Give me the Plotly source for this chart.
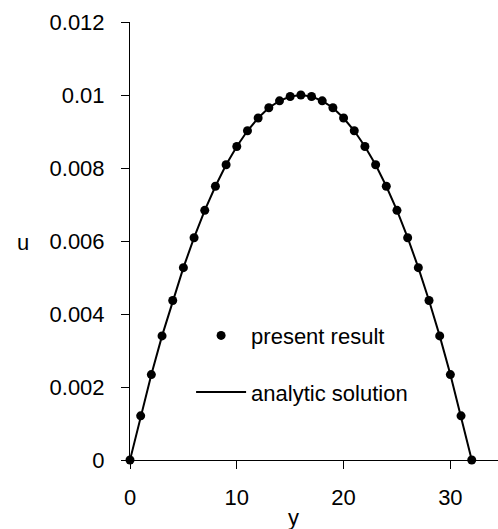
import plotly.graph_objects as go

y_pos = [0, 1, 2, 3, 4, 5, 6, 7, 8, 9, 10, 11, 12, 13, 14, 15, 16,
         17, 18, 19, 20, 21, 22, 23, 24, 25, 26, 27, 28, 29, 30, 31, 32]
u_present = [0.0, 0.00121, 0.00234, 0.00340, 0.00437, 0.00527, 0.00609, 0.00684,
             0.00750, 0.00809, 0.00859, 0.00902, 0.00937, 0.00965, 0.00984, 0.00996,
             0.01000, 0.00996, 0.00984, 0.00965, 0.00937, 0.00902, 0.00859, 0.00809,
             0.00750, 0.00684, 0.00609, 0.00527, 0.00437, 0.00340, 0.00234, 0.00121, 0.0]
u_analytic = [0.0, 0.00121, 0.00234, 0.00340, 0.00437, 0.00527, 0.00609, 0.00684,
              0.00750, 0.00809, 0.00859, 0.00902, 0.00937, 0.00965, 0.00984, 0.00996,
              0.01000, 0.00996, 0.00984, 0.00965, 0.00937, 0.00902, 0.00859, 0.00809,
              0.00750, 0.00684, 0.00609, 0.00527, 0.00437, 0.00340, 0.00234, 0.00121, 0.0]
x_ticks = [0, 10, 20, 30]
y_ticks = [0, 0.002, 0.004, 0.006, 0.008, 0.010, 0.012]
y_ticktext = ["0", "0.002", "0.004", "0.006", "0.008", "0.01", "0.012"]

FONT = "Liberation Sans, Arial, sans-serif"
FS = 22

fig = go.Figure()
fig.add_trace(go.Scatter(
    x=y_pos, y=u_present, mode="markers", name="present result",
    marker=dict(color="black", size=9, symbol="circle"),
    cliponaxis=False, legendgroup="a"))
fig.add_trace(go.Scatter(
    x=y_pos, y=u_analytic, mode="lines", name="analytic solution",
    line=dict(color="black", width=2),
    cliponaxis=False, legendgroup="b"))

fig.update_layout(
    width=498, height=529,
    margin=dict(l=130, r=0, t=22, b=69),
    plot_bgcolor="white", paper_bgcolor="white",
    font=dict(family=FONT, size=FS, color="black"),
    showlegend=True,
    legend=dict(x=0.166, y=0.219, xanchor="left", yanchor="middle",
                bgcolor="rgba(0,0,0,0)", traceorder="grouped",
                tracegroupgap=25, itemwidth=50,
                font=dict(family=FONT, size=FS, color="black")),
    xaxis=dict(range=[0, 34.46], showline=True, linecolor="black", linewidth=1,
               ticks="outside", ticklen=8, tickcolor="black",
               tickvals=x_ticks, showgrid=False, zeroline=False,
               ticklabelstandoff=10),
    yaxis=dict(range=[0, 0.012], showline=True, linecolor="black", linewidth=1,
               ticks="outside", ticklen=8, tickcolor="black",
               tickvals=y_ticks, ticktext=y_ticktext,
               showgrid=False, zeroline=False, ticklabelstandoff=12),
    annotations=[
        dict(text="u", xref="paper", yref="paper", x=(15 - 130) / 368,
             y=(529 - 69 - 243) / 438, showarrow=False,
             font=dict(family=FONT, size=FS, color="black")),
        dict(text="y", xref="paper", yref="paper", x=(293 - 130) / 368,
             y=-(517 - 460) / 438, yanchor="middle", showarrow=False,
             font=dict(family=FONT, size=FS, color="black")),
    ],
)

fig.write_html("out.html")
